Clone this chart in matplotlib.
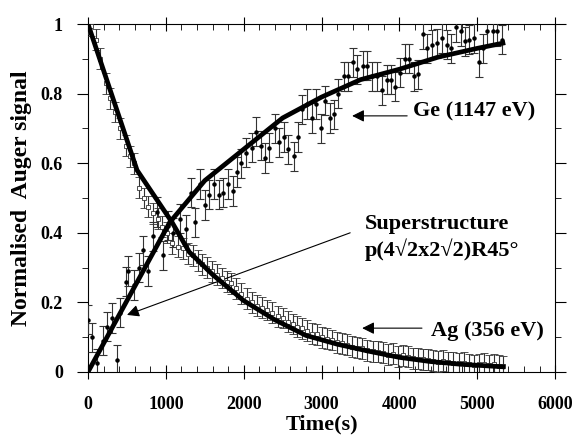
import matplotlib
matplotlib.use("Agg")
from matplotlib import pyplot as plt
from matplotlib.ticker import MultipleLocator, FixedFormatter, FixedLocator

plt.rcParams['font.family'] = ['Liberation Serif', 'DejaVu Serif']
plt.rcParams['font.weight'] = 'bold'

# Ge (1147 eV) measured points
ge_t = [0, 50, 115, 190, 250, 310, 370, 410, 490, 520, 590, 650, 710, 775, 835, 885,
        960, 1030, 1090, 1180, 1260, 1324, 1375, 1440, 1500, 1560, 1620, 1680, 1740,
        1800, 1860, 1915, 1970, 2031, 2108, 2160, 2224, 2275, 2326, 2404, 2455, 2519,
        2571, 2640, 2699, 2751, 2815, 2879, 2931, 2990, 3046, 3110, 3160, 3213, 3290,
        3342, 3406, 3458, 3535, 3586, 3650, 3715, 3779, 3843, 3895, 3950, 4010, 4075,
        4126, 4190, 4242, 4306, 4357, 4422, 4486, 4550, 4614, 4666, 4730, 4794, 4846,
        4897, 4961, 5026, 5080, 5129, 5206, 5257, 5321]
ge_y = [0.15, 0.10, 0.025, 0.09, 0.13, 0.155, 0.035, 0.17, 0.26, 0.29, 0.25, 0.30, 0.35,
        0.29, 0.39, 0.46, 0.335, 0.42, 0.40, 0.44, 0.41, 0.515, 0.43, 0.54, 0.48, 0.51,
        0.54, 0.51, 0.515, 0.54, 0.52, 0.575, 0.60, 0.63, 0.645, 0.69, 0.65, 0.615, 0.645,
        0.70, 0.66, 0.675, 0.64, 0.62, 0.675, 0.755, 0.77, 0.73, 0.77, 0.70, 0.78, 0.73,
        0.74, 0.80, 0.85, 0.85, 0.89, 0.87, 0.88, 0.88, 0.85, 0.85, 0.81, 0.84, 0.84, 0.82,
        0.86, 0.90, 0.90, 0.85, 0.855, 0.97, 0.93, 0.94, 0.945, 0.96, 0.94, 0.93, 0.99,
        0.98, 0.95, 0.955, 0.96, 0.89, 0.93, 0.98, 0.98, 0.98, 0.955]
ge_err = 0.042

# Ag (356 eV) measured points
ag_t = [0, 40, 100, 154, 231, 283, 347, 411, 490, 540, 590, 655, 720, 770, 835, 900, 950,
        1015, 1080, 1155, 1220, 1290, 1350, 1410, 1465, 1530, 1595, 1658, 1720, 1780, 1840,
        1900, 1970, 2044, 2110, 2170, 2230, 2300, 2370, 2440, 2506, 2570, 2630, 2686, 2750,
        2815, 2880, 2945, 3010, 3070, 3135, 3200, 3265, 3330, 3395, 3460, 3525, 3590, 3655,
        3720, 3785, 3850, 3915, 3980, 4045, 4110, 4175, 4240, 4305, 4370, 4435, 4500, 4565,
        4630, 4695, 4760, 4825, 4890, 4955, 5020, 5085, 5150, 5215, 5280, 5330]
ag_y = [1.0, 0.995, 0.955, 0.90, 0.83, 0.787, 0.747, 0.70, 0.65, 0.62, 0.60, 0.53, 0.50,
        0.475, 0.456, 0.44, 0.417, 0.40, 0.37, 0.36, 0.355, 0.34, 0.335, 0.32, 0.31, 0.30,
        0.29, 0.28, 0.27, 0.26, 0.255, 0.24, 0.225, 0.21, 0.20, 0.19, 0.185, 0.178, 0.17,
        0.16, 0.155, 0.145, 0.138, 0.13, 0.125, 0.118, 0.11, 0.108, 0.10, 0.095, 0.092,
        0.085, 0.082, 0.078, 0.072, 0.070, 0.068, 0.062, 0.060, 0.058, 0.055, 0.050, 0.052,
        0.045, 0.048, 0.044, 0.040, 0.038, 0.036, 0.035, 0.033, 0.030, 0.032, 0.028, 0.027,
        0.025, 0.027, 0.022, 0.020, 0.022, 0.024, 0.020, 0.022, 0.018, 0.017]
ag_err = 0.03

# fitted curves
ag_fit_t = [0, 630, 1080, 1300, 1600, 2000, 2400, 2800, 3200, 3600, 4000, 4400, 4800, 5330]
ag_fit_y = [1.0, 0.58, 0.43, 0.345, 0.28, 0.205, 0.15, 0.105, 0.08, 0.06, 0.042, 0.03, 0.022, 0.015]
ge_fit_t = [0, 1050, 1500, 2000, 2500, 3000, 3500, 4000, 4500, 5000, 5330]
ge_fit_y = [0.0, 0.43, 0.55, 0.64, 0.73, 0.79, 0.84, 0.87, 0.905, 0.93, 0.945]

fig = plt.figure(figsize=(5.77, 4.38), dpi=100)
ax = fig.add_axes([0.1525, 0.1507, 0.8095, 0.7945])

ax.errorbar(ge_t, ge_y, yerr=ge_err, fmt='o', ms=2.2, color='black', ecolor='#333333',
            elinewidth=0.8, capsize=3, capthick=0.8, zorder=3)
ax.errorbar(ag_t, ag_y, yerr=ag_err, fmt='s', ms=3.2, mfc='white', mec='#333333', mew=0.6,
            color='black', ecolor='#333333', elinewidth=0.8, capsize=3, capthick=0.8, zorder=3)
ax.plot(ag_fit_t, ag_fit_y, color='black', lw=3.4, zorder=4)
ax.plot(ge_fit_t, ge_fit_y, color='black', lw=3.4, zorder=4)

ax.set_xlim(0, 6000)
ax.set_ylim(0, 1)
ax.xaxis.set_major_locator(MultipleLocator(1000))
ax.xaxis.set_minor_locator(MultipleLocator(200))
ax.yaxis.set_major_locator(FixedLocator([0, 0.2, 0.4, 0.6, 0.8, 1.0]))
ax.yaxis.set_major_formatter(FixedFormatter(['0', '0.2', '0.4', '0.6', '0.8', '1']))
ax.yaxis.set_minor_locator(MultipleLocator(0.1))
ax.tick_params(axis='both', which='major', labelsize=13)
ax.tick_params(axis='x', which='major', direction='inout', length=10, top=True, pad=12)
ax.tick_params(axis='x', which='minor', direction='in', length=4, top=True)
ax.tick_params(axis='y', which='major', direction='out', length=8, right=True, pad=10)
ax.tick_params(axis='y', which='minor', direction='out', length=4, right=True)
for sp in ax.spines.values():
    sp.set_linewidth(0.8)

ax.set_xlabel("Time(s)", fontsize=16, fontweight='bold', labelpad=1)
ax.set_ylabel("Normalised  Auger signal", fontsize=17, fontweight='bold', labelpad=6)

arrow = dict(arrowstyle='-|>', color='black', lw=0.8, mutation_scale=18, shrinkA=0, shrinkB=0)
ax.annotate("", xy=(3393, 0.736), xytext=(4100, 0.736), arrowprops=arrow)
ax.text(4170, 0.748, "Ge (1147 eV)", fontsize=16, fontweight='bold', va='center', ha='left')
ax.annotate("", xy=(3522, 0.126), xytext=(4290, 0.126), arrowprops=arrow)
ax.text(4400, 0.118, "Ag (356 eV)", fontsize=16, fontweight='bold', va='center', ha='left')
ax.annotate("", xy=(501, 0.164), xytext=(3368, 0.40), arrowprops=arrow)
ax.text(3560, 0.425, "Superstructure", fontsize=16, fontweight='bold', va='center', ha='left')
ax.text(3560, 0.352, "p(4\u221a2x2\u221a2)R45\u00b0", fontsize=16, fontweight='bold',
        va='center', ha='left')

fig.savefig("out.png", dpi=100)
